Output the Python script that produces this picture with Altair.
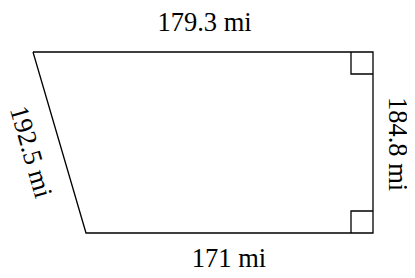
import altair as alt
import pandas as pd

# Figure coordinates (drawing units, y up)
shape_ids = ["quad"] * 5 + ["sq_top"] * 3 + ["sq_bot"] * 3
shape_x = [25, 365, 365, 78, 25, 343, 343, 365, 343, 343, 365]
shape_y = [218, 218, 37, 37, 218, 218, 196, 196, 37, 59, 59]
shape_order = [0, 1, 2, 3, 4, 0, 1, 2, 0, 1, 2]

label_text = ["179.3 mi", "171 mi", "184.8 mi", "192.5 mi"]
label_x = [196.5, 221, 388.5, 22.5]
label_y = [239.5, 3, 126, 118]
label_angle = [0, 0, 90, 74]
label_base = ["alphabetic", "alphabetic", "middle", "middle"]

W, H = 399, 262

shapes = pd.DataFrame({"id": shape_ids, "x": shape_x, "y": shape_y, "o": shape_order})
labels = pd.DataFrame({"t": label_text, "x": label_x, "y": label_y, "a": label_angle})

xs = alt.Scale(domain=[0, W], nice=False, zero=False)
ys = alt.Scale(domain=[0, H], nice=False, zero=False)

lines = alt.Chart(shapes).mark_line(color="black", strokeWidth=1.3).encode(
    x=alt.X("x:Q", scale=xs, axis=None),
    y=alt.Y("y:Q", scale=ys, axis=None),
    detail="id:N",
    order="o:Q",
)

texts = []
for i in range(len(label_text)):
    sub = labels.iloc[[i]]
    texts.append(
        alt.Chart(sub).mark_text(
            font="Liberation Serif", fontSize=26.5, color="black",
            align="center", baseline=label_base[i], angle=label_angle[i],
        ).encode(
            x=alt.X("x:Q", scale=xs, axis=None),
            y=alt.Y("y:Q", scale=ys, axis=None),
            text="t:N",
        )
    )

chart = alt.layer(lines, *texts).properties(
    width=W, height=H, padding=0, autosize=alt.AutoSizeParams(type="none")
).configure_view(stroke=None)

chart.save("out.html", embed_options={"renderer": "svg", "actions": False})
